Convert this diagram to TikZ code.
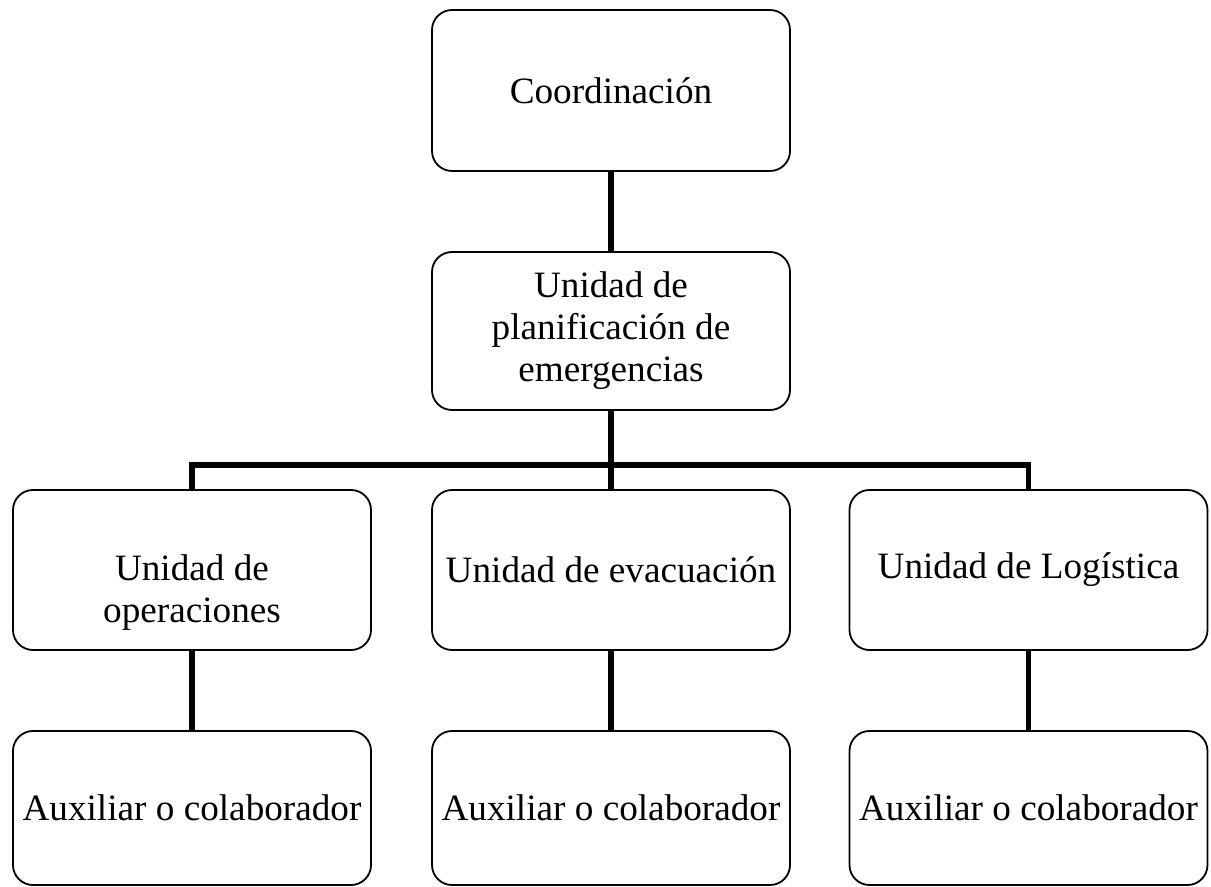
\documentclass[tikz,border=0pt]{standalone}
\usepackage{fontspec}
\setmainfont{Liberation Serif}
\usepackage{tikz}
\usetikzlibrary{calc,positioning}

\begin{document}
\begin{tikzpicture}[x=0.5pt,y=-0.5pt]
\tikzstyle{box}=[draw, rounded corners=10pt, line width=0.9pt, align=center,
                 minimum width=179pt, inner sep=0pt,
                 font=\fontsize{18.6}{21}\selectfont]
\tikzstyle{conn}=[line width=2.8pt]
\useasboundingbox (0,0) rectangle (1211,887);
\node[box, minimum height=80.5pt] (coord) at (611,90.5){Coordinación};
\node[box, minimum height=79pt] (plan) at (611,331){Unidad de\\planificación de\\emergencias};
\node[box, minimum height=80pt] (ops) at (192,570){\strut\\Unidad de\\operaciones};
\node[box, minimum height=80pt] (evac) at (611,570){Unidad de evacuación};
\node[box, minimum height=80pt] (log) at (1028.5,570){Unidad de Logística};
\node[box, minimum height=77pt] (aux1) at (192,808){Auxiliar o colaborador};
\node[box, minimum height=77pt] (aux2) at (611,808){Auxiliar o colaborador};
\node[box, minimum height=77pt] (aux3) at (1028.5,808){Auxiliar o colaborador};
\coordinate (bar) at (611,465);
\draw[conn] (plan) |- (ops |- bar) -- (ops);
\draw[conn] (plan) |- (log |- bar) -- (log);
\foreach \i/\j in {coord/plan,plan/evac,ops/aux1,evac/aux2,log/aux3}{\draw[conn] (\i) -- (\j);}
\end{tikzpicture}
\end{document}
